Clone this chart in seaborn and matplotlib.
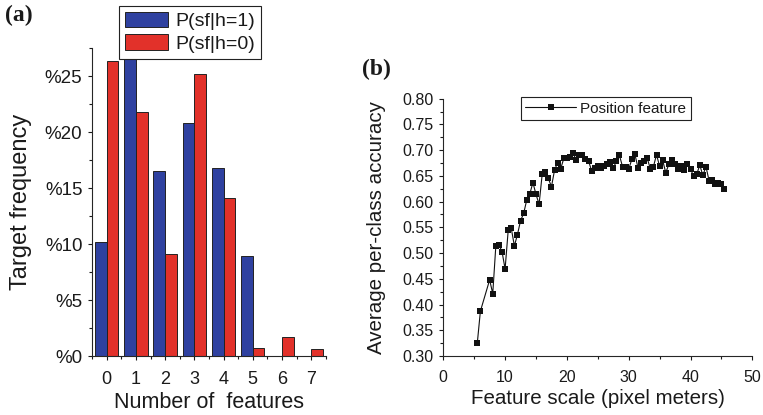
import numpy as np
import pandas as pd
import matplotlib
matplotlib.use("Agg")
import matplotlib.pyplot as plt
from matplotlib.ticker import MultipleLocator, FuncFormatter
import seaborn as sns

# ---- data: target-frequency histogram ----
num_features = [0, 1, 2, 3, 4, 5, 6, 7]
p_h1 = [10.2, 26.5, 16.5, 20.8, 16.8, 8.9, 0.0, 0.0]
p_h0 = [26.4, 21.8, 9.1, 25.2, 14.1, 0.7, 1.7, 0.6]
series_labels = ["P(sf|h=1)", "P(sf|h=0)"]

# ---- data: accuracy vs feature scale ----
feature_scale = [5.5, 6.0, 7.5, 8.0, 8.5, 9.0, 9.5, 10.0, 10.5, 11.0, 11.5, 12.0,
                 12.5, 13.0, 13.5, 14.0, 14.5, 15.0, 15.5, 16.0, 16.5, 17.0, 17.5,
                 18.0, 18.5, 19.0, 19.5, 20.0, 20.5, 21.0, 21.5, 22.0, 22.5, 23.0,
                 23.5, 24.0, 24.5, 25.0, 25.5, 26.0, 26.5, 27.0, 27.5, 28.0, 28.5,
                 29.0, 29.5, 30.0, 30.5, 31.0, 31.5, 32.0, 32.5, 33.0, 33.5, 34.0,
                 34.5, 35.0, 35.5, 36.0, 36.5, 37.0, 37.5, 38.0, 38.5, 39.0, 39.5,
                 40.0, 40.5, 41.0, 41.5, 42.0, 42.5, 43.0, 43.5, 44.0, 44.5, 45.0,
                 45.5]
accuracy = [0.325, 0.387, 0.448, 0.421, 0.514, 0.516, 0.503, 0.469, 0.544, 0.548,
            0.514, 0.536, 0.563, 0.577, 0.603, 0.615, 0.637, 0.614, 0.595, 0.653,
            0.657, 0.645, 0.629, 0.661, 0.676, 0.664, 0.684, 0.684, 0.686, 0.694,
            0.681, 0.690, 0.690, 0.682, 0.679, 0.660, 0.666, 0.669, 0.666, 0.669,
            0.673, 0.677, 0.665, 0.678, 0.690, 0.668, 0.668, 0.663, 0.682, 0.692,
            0.666, 0.675, 0.679, 0.684, 0.664, 0.668, 0.691, 0.669, 0.680, 0.656,
            0.673, 0.680, 0.673, 0.663, 0.669, 0.661, 0.673, 0.664, 0.649, 0.653,
            0.671, 0.651, 0.668, 0.641, 0.642, 0.634, 0.636, 0.635, 0.624]

sns.set_style("ticks")
plt.rcParams["font.family"] = ["Liberation Sans", "DejaVu Sans"]
plt.rcParams["axes.linewidth"] = 0.8
plt.rcParams["text.color"] = "#1a1a1a"
plt.rcParams["axes.labelcolor"] = "#1a1a1a"
plt.rcParams["xtick.color"] = "#1a1a1a"
plt.rcParams["ytick.color"] = "#1a1a1a"

W, H = 763, 415
fig = plt.figure(figsize=(W / 100, H / 100), dpi=100)


def px_axes(x0, y_top, x1, y_bot):
    return fig.add_axes([x0 / W, (H - y_bot) / H, (x1 - x0) / W, (y_bot - y_top) / H])


# ---------------- panel (a) ----------------
ax1 = px_axes(92.1, 48.3, 325.8, 356)
df_a = pd.DataFrame({
    "n": num_features * 2,
    "freq": p_h1 + p_h0,
    "series": [series_labels[0]] * len(p_h1) + [series_labels[1]] * len(p_h0),
})
sns.barplot(data=df_a, x="n", y="freq", hue="series", hue_order=series_labels,
            palette=["#2f41a0", "#e2312a"], width=0.8, saturation=1,
            edgecolor="#222222", linewidth=0.7, ax=ax1)
ax1.set_xlim(-0.5, 7.5)
ax1.set_ylim(0, 27.5)
ax1.yaxis.set_major_locator(MultipleLocator(5))
ax1.yaxis.set_minor_locator(MultipleLocator(2.5))
ax1.yaxis.set_major_formatter(FuncFormatter(lambda v, p: f"%{v:.0f}"))
ax1.set_xticks(range(len(num_features)))
ax1.set_xticklabels([str(v) for v in num_features])
ax1.set_xticks(np.arange(-0.5, 8.0, 1.0), minor=True)
ax1.tick_params(axis="both", which="major", direction="out", length=3, width=0.8)
ax1.tick_params(axis="x", which="major", labelsize=13, pad=8)
ax1.tick_params(axis="y", which="major", labelsize=13.5, pad=4)
ax1.tick_params(axis="both", which="minor", direction="out", length=2, width=0.8)
ax1.set_xlabel("Number of  features", fontsize=15.5, labelpad=3)
ax1.set_ylabel("Target frequency", fontsize=17, labelpad=9)
sns.despine(ax=ax1)
leg1 = ax1.legend(loc="upper left", bbox_to_anchor=((119 - 92.1) / 233.7, (356 - 6) / 307.7),
                  fontsize=14, frameon=True, fancybox=False, framealpha=1,
                  edgecolor="#222222", handlelength=2.2, handleheight=0.85,
                  handletextpad=0.4, borderpad=0.3, labelspacing=0.2,
                  borderaxespad=0)
leg1.get_frame().set_linewidth(0.8)
fig.text(5 / W, 1 - 5 / H, "(a)", fontsize=17, fontweight="bold",
         family=["Liberation Serif", "DejaVu Serif"], va="top", ha="left")

# ---------------- panel (b) ----------------
ax2 = px_axes(443.3, 98.7, 752.3, 356)
df_b = pd.DataFrame({"scale": feature_scale, "acc": accuracy})
sns.lineplot(data=df_b, x="scale", y="acc", marker="s", markersize=4.6,
             color="#111111", linewidth=0.8, markeredgewidth=0,
             label="Position feature", ax=ax2)
ax2.set_xlim(0, 50)
ax2.set_ylim(0.30, 0.80)
ax2.xaxis.set_major_locator(MultipleLocator(10))
ax2.xaxis.set_minor_locator(MultipleLocator(5))
ax2.yaxis.set_major_locator(MultipleLocator(0.05))
ax2.yaxis.set_minor_locator(MultipleLocator(0.025))
ax2.yaxis.set_major_formatter(FuncFormatter(lambda v, p: f"{v:.2f}"))
ax2.tick_params(axis="both", which="major", direction="out", length=3,
                width=0.8, labelsize=11.5)
ax2.tick_params(axis="x", which="major", pad=7)
ax2.tick_params(axis="y", which="major", pad=4)
ax2.tick_params(axis="both", which="minor", direction="out", length=2, width=0.8)
ax2.set_xlabel("Feature scale (pixel meters)", fontsize=14.8, labelpad=3)
ax2.set_ylabel("Average per-class accuracy", fontsize=14.8, labelpad=12)
sns.despine(ax=ax2)
leg2 = ax2.legend(loc="upper right", bbox_to_anchor=((691 - 443.3) / 309, (356 - 97) / 257.3),
                  fontsize=11, frameon=True, fancybox=False, framealpha=1,
                  edgecolor="#222222", handlelength=3.3, handletextpad=0.3,
                  borderpad=0.3, borderaxespad=0)
leg2.get_frame().set_linewidth(0.8)
fig.text(362 / W, 1 - 59 / H, "(b)", fontsize=17, fontweight="bold",
         family=["Liberation Serif", "DejaVu Serif"], va="top", ha="left")

fig.savefig("out.png", dpi=100)
